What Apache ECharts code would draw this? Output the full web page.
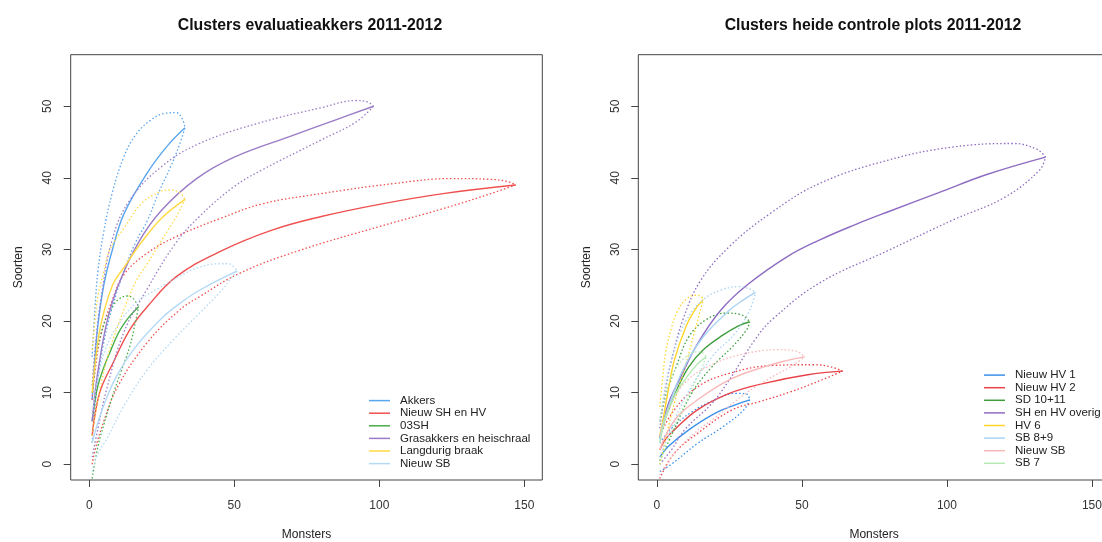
<!DOCTYPE html>
<html>
<head>
  <meta charset="utf-8">
  <title>Clusters 2011-2012</title>
  <script src="https://cdn.jsdelivr.net/npm/echarts@6/dist/echarts.min.js"></script>
  <style>
    html, body { margin: 0; padding: 0; overflow: hidden; background: #fff; }
    #main { width: 1130px; height: 542px; }
  </style>
</head>
<body>
<div id="main"></div>
<script>
// tick labels
var xTicks = [0, 50, 100, 150];
var yTicks = [0, 10, 20, 30, 40, 50];

// links: evaluatieakkers  ([monsters, soorten])
var akkersMean = [[1,9],[2,15],[3,19.5],[5,25],[8,30],[12,35],[20,40.7],[27,44.5],[33,47]];
var akkersUp   = [[1,15],[2,22],[3,27],[5,32.5],[8,38],[12,43],[16,46],[21,48],[26,49],[30,49.1],[32,48.3],[33,47]];
var akkersLo   = [[1,3],[2,8],[3,12],[5,17],[8,22],[12,27],[16,31],[20,34],[24,38],[28,41.5],[31,44.5],[33,47]];

var nshMean = [[1,4],[2,7],[4,10.5],[8,14],[14,18.8],[20,22],[30,26.2],[45,29.7],[63,32.7],[80,34.6],[100,36.3],[122,37.8],[147,39]];
var nshUp   = [[1,9],[2,13],[4,18],[8,23],[12,26.5],[20,29.5],[30,31.8],[45,34.3],[60,36.4],[80,37.8],[105,39.2],[125,39.9],[138,39.8],[144,39.5],[147,39]];
var nshLo   = [[1,0],[2,2],[5,6],[10,11],[20,17],[31,21.5],[38,23.4],[52,26.7],[72,29.8],[100,33.2],[122,35.7],[140,38],[147,39]];

var sh03Mean = [[1,6],[2,9],[3,11],[5,13.5],[7,15.5],[10,18.3],[13,20.2],[17,22]];
var sh03Up   = [[1,10],[2,14],[3,16.5],[5,19.5],[7,21.3],[10,23],[13,23.5],[15,23.2],[17,22]];
var sh03Lo   = [[1,-2],[3,2.5],[5,5.5],[8,9.5],[11,13],[14,16.5],[16,20],[17,22]];

var grasMean = [[1,6],[2,10],[3,13],[6,19.7],[10,25],[17,31],[25,35.5],[37,39.9],[50,42.9],[70,45.9],[85,48.1],[98,50]];
var grasUp   = [[1,11],[2,16],[4,23],[8,31.5],[14,36.9],[25,41.6],[38,44.8],[58,47.6],[80,49.8],[92,50.8],[96,50.6],[98,50]];
var grasLo   = [[1,1],[3,5],[6,10.5],[12,18.5],[20,24.5],[30,31],[38,34.6],[50,38.8],[60,41.2],[80,45.3],[92,47.8],[98,50]];

var braakMean = [[1,10],[2,14],[4,19.5],[8,25],[12,27.5],[18,31],[25,34.4],[33,37]];
var braakUp   = [[1,16],[2,20],[3,23.5],[5,26.8],[7,29.9],[12,33],[18,36.4],[24,38],[28,38.3],[31,38],[33,37]];
var braakLo   = [[1,4],[3,9],[6,14.5],[10,19.5],[16,25.5],[20,28],[25,31.3],[30,34.6],[33,37]];

var nsbMean = [[1,3],[4,7.1],[9,12],[16,16.4],[25,20.4],[31,22.4],[38,24.3],[51,27]];
var nsbUp   = [[1,7],[3,12],[6,16.5],[10,19.5],[16,22.5],[24,24.6],[31,26.2],[37,27.4],[45,28],[48,28],[51,27]];
var nsbLo   = [[1,-1],[3,1.5],[6,3.5],[12,8.2],[20,13.2],[29,17.4],[38,21.1],[45,24],[49,26],[51,27]];

// rechts: heide controle plots
var hv1Mean = [[1,1],[4,2.5],[11,4.8],[20,7.1],[27,8.3],[32,9]];
var hv1Up   = [[1,3],[5,5],[12,7.3],[20,9],[27,9.9],[31,9.8],[32,9]];
var hv1Lo   = [[1,-1],[5,0],[14,2.9],[23,5.3],[30,7.6],[32,9]];

var hv2Mean = [[1,2],[3,3.5],[6,4.8],[14,7.6],[25,9.9],[37,11.3],[52,12.5],[64,13]];
var hv2Up   = [[1,4],[6,7.6],[14,10.8],[25,12.7],[40,13.8],[54,13.9],[60,13.6],[64,13]];
var hv2Lo   = [[1,-2],[6,1.5],[14,4.3],[26,7.6],[35,8.7],[46,10.1],[57,11.8],[64,13]];

var sdMean = [[1,3.5],[3,6.5],[7,10.5],[11,13.6],[16,16],[23,18.1],[28,19.3],[32,19.9]];
var sdUp   = [[1,6],[3,9.5],[7,14],[11,17.8],[17,20.2],[24,21.1],[29,20.9],[32,19.9]];
var sdLo   = [[1,0.5],[5,4],[12,9.9],[19,13.6],[26,16.4],[31,18.8],[32,19.9]];

var shhvMean = [[1,3.5],[2,5.5],[4,8.5],[8,12],[14,16.8],[22,21.5],[31,25],[45,29],[56,31.3],[68,33.4],[80,35.3],[97,37.9],[114,40.5],[134,42.9]];
var shhvUp   = [[1,5],[3,10.5],[5,14.5],[9,20.2],[15,25.6],[25,30.4],[39,35],[56,39.2],[80,42.5],[102,44.3],[123,44.8],[131,44],[134,42.9]];
var shhvLo   = [[1,0],[5,2],[10,5],[19,8.5],[25,11.8],[34,17.5],[40,20.3],[56,25.3],[80,29.9],[102,34.1],[120,37.3],[132,41.1],[134,42.9]];

var hv6Mean = [[1,4],[2,6],[4,10.5],[6,14.5],[10,19.2],[13,21.5],[16,23]];
var hv6Up   = [[1,8],[2,12],[3,15.5],[5,19],[7,21.3],[10,23],[13,23.6],[15,23.5],[16,23]];
var hv6Lo   = [[1,0],[3,3.5],[6,8.5],[10,14],[13,18.5],[15,21.5],[16,23]];

var sb89Mean = [[1,3.5],[2,5.5],[4,8],[9,13.2],[16,17.8],[25,21.5],[30,23],[34,24]];
var sb89Up   = [[1,6],[3,11],[6,16],[10,20],[16,23],[22,24.3],[28,24.8],[32,24.5],[34,24]];
var sb89Lo   = [[1,1],[4,4],[10,9.5],[19,15],[27,18.3],[32,21.5],[34,24]];

var nsb2Mean = [[1,2],[3,4],[7,6.6],[14,9],[25,11.8],[37,13.6],[45,14.5],[51,15]];
var nsb2Up   = [[1,4],[4,7.5],[10,11.5],[20,14.1],[31,15.5],[42,16],[48,15.8],[51,15]];
var nsb2Lo   = [[1,-1.5],[5,1],[12,4],[20,6.5],[31,10],[38,11.8],[46,13.6],[51,15]];

var sb7Mean = [[1,3],[3,6.5],[6,9.5],[10,12],[14,14],[17,15]];
var sb7Up   = [[1,6],[3,10],[6,13],[10,15],[14,15.7],[16,15.5],[17,15]];
var sb7Lo   = [[1,0],[4,3.5],[8,7],[12,10.5],[15,13],[17,15]];

var leftGroups = [
  ['Akkers', '#5aa6ee', akkersMean, akkersUp, akkersLo],
  ['Nieuw SH en HV', '#ef5050', nshMean, nshUp, nshLo],
  ['03SH', '#48ad48', sh03Mean, sh03Up, sh03Lo],
  ['Grasakkers en heischraal', '#9a7cc6', grasMean, grasUp, grasLo],
  ['Langdurig braak', '#ffd842', braakMean, braakUp, braakLo],
  ['Nieuw SB', '#b3d9f5', nsbMean, nsbUp, nsbLo]
];
// trailing space so the legend does not pick up the left "Nieuw SB" colour
var rightGroups = [
  ['Nieuw HV 1', '#3d90ea', hv1Mean, hv1Up, hv1Lo],
  ['Nieuw HV 2', '#e8444a', hv2Mean, hv2Up, hv2Lo],
  ['SD 10+11', '#3e9e3e', sdMean, sdUp, sdLo],
  ['SH en HV overig', '#8e6cc2', shhvMean, shhvUp, shhvLo],
  ['HV 6', '#ffd52a', hv6Mean, hv6Up, hv6Lo],
  ['SB 8+9', '#a9d2f2', sb89Mean, sb89Up, sb89Lo],
  ['Nieuw SB ', '#f9b8b8', nsb2Mean, nsb2Up, nsb2Lo],
  ['SB 7', '#b5eab5', sb7Mean, sb7Up, sb7Lo]
];

var myChart = echarts.init(document.getElementById('main'));
var font = 'Liberation Sans, Arial, sans-serif';

function makeSeries(groups, idx) {
  var out = [];
  groups.forEach(function (g) {
    var parts = [[g[2], 'solid', 1.4], [g[3], [1.5, 2.2], 1.3], [g[4], [1.5, 2.2], 1.3]];
    parts.forEach(function (p) {
      out.push({
        name: g[0],
        type: 'line',
        xAxisIndex: idx,
        yAxisIndex: idx,
        data: p[0],
        smooth: 0.4,
        symbol: 'none',
        silent: true,
        itemStyle: { color: g[1] },
        lineStyle: { color: g[1], width: p[2], type: p[1] }
      });
    });
  });
  return out;
}

function xAxis(idx) {
  return {
    type: 'value', gridIndex: idx, min: -6.4, max: 156.2,
    name: 'Monsters', nameLocation: 'middle', nameGap: 49,
    nameTextStyle: { fontFamily: font, fontSize: 12, color: '#222' },
    splitLine: { show: false },
    axisLine: { show: false, onZero: false },
    axisTick: { show: true, inside: false, length: 7, customValues: xTicks, lineStyle: { color: '#444' } },
    axisLabel: { customValues: xTicks, margin: 20, fontFamily: font, fontSize: 12, color: '#333' }
  };
}

function yAxis(idx) {
  return {
    type: 'value', gridIndex: idx, min: -2.2, max: 57.2,
    name: 'Soorten', nameLocation: 'middle', nameGap: 46,
    nameTextStyle: { fontFamily: font, fontSize: 12, color: '#222' },
    splitLine: { show: false },
    axisLine: { show: false, onZero: false },
    axisTick: { show: true, inside: false, length: 7, customValues: yTicks, lineStyle: { color: '#444' } },
    axisLabel: { customValues: yTicks, rotate: 90, margin: 17, fontFamily: font, fontSize: 12, color: '#333' }
  };
}

function legend(groups, left, top) {
  return {
    orient: 'vertical', left: left, top: top, padding: 0,
    icon: 'rect', itemWidth: 21, itemHeight: 1.5, itemGap: 0.4,
    selectedMode: false,
    data: groups.map(function (g) { return g[0]; }),
    textStyle: { fontFamily: font, fontSize: 11.5, lineHeight: 12.2, color: '#222', padding: [0, 0, 0, 5] }
  };
}

var option = {
  animation: false,
  backgroundColor: '#fff',
  title: [
    { text: 'Clusters evaluatieakkers 2011-2012', left: 305, top: 13, textAlign: 'center',
      textStyle: { fontFamily: font, fontSize: 15.8, fontWeight: 'bold', color: '#111' } },
    { text: 'Clusters heide controle plots 2011-2012', left: 868, top: 13, textAlign: 'center',
      textStyle: { fontFamily: font, fontSize: 15.8, fontWeight: 'bold', color: '#111' } }
  ],
  grid: [
    { left: 70.7, top: 54.7, width: 471.6, height: 425.3, show: true, borderColor: '#444', borderWidth: 1, outerBoundsMode: 'none' },
    { left: 638.3, top: 54.7, width: 471.6, height: 425.3, show: true, borderColor: '#444', borderWidth: 1, outerBoundsMode: 'none' }
  ],
  xAxis: [xAxis(0), xAxis(1)],
  yAxis: [yAxis(0), yAxis(1)],
  legend: [legend(leftGroups, 369, 394.5), legend(rightGroups, 984, 369)],
  series: makeSeries(leftGroups, 0).concat(makeSeries(rightGroups, 1))
};

myChart.setOption(option);
</script>
</body>
</html>
